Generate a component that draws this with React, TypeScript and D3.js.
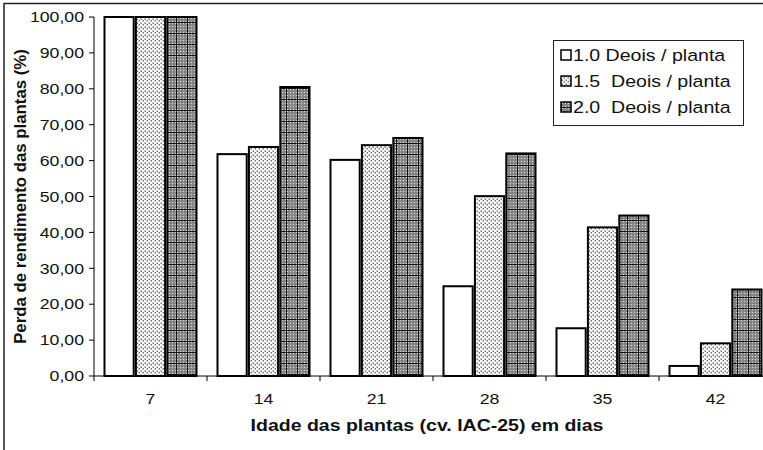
import * as d3 from 'd3';

const categories = ['7', '14', '21', '28', '35', '42'];
const seriesNames = ['1.0 Deois / planta', '1.5  Deois / planta', '2.0  Deois / planta'];
const values10 = [100, 61.8, 60.2, 25.0, 13.3, 2.8];
const values15 = [100, 63.8, 64.3, 50.1, 41.4, 9.1];
const values20 = [100, 80.5, 66.3, 62.0, 44.7, 24.1];
const yTicks = [0, 10, 20, 30, 40, 50, 60, 70, 80, 90, 100];

const W = 763;
const H = 450;
const left = 94;
const right = 772;
const top = 17;
const bottom = 376;
const font = '"Liberation Sans", Arial, sans-serif';
// the reference text looks a little stretched horizontally
const sx = 1.18;

const fills = ['#ffffff', 'url(#pat15)', 'url(#pat20)'];

export default function App() {
  const series = [values10, values15, values20];
  const p = 21 / 113;
  const x = d3.scaleBand<string>().domain(categories).range([left, right]).paddingInner(p).paddingOuter(p / 2);
  const xs = d3.scaleBand<number>().domain([0, 1, 2]).range([0, x.bandwidth()]).paddingInner(0.07);
  const y = d3.scaleLinear().domain([0, 100]).range([bottom, top]);
  const fmt = (v: number) => d3.format('.2f')(v).replace('.', ',');
  const step = x.step();
  const boundaries = d3.range(categories.length + 1).map(i => left + i * step);

  return (
    <svg width={W} height={H} style={{ position: 'absolute', left: 0, top: 0, background: '#fff' }}>
      <defs>
        <pattern id="pat15" width={4} height={4} patternUnits="userSpaceOnUse">
          <rect width={4} height={4} fill="#cacaca" />
          <rect x={0} y={0} width={2} height={2} fill="#fcfcfc" />
          <rect x={2} y={2} width={2} height={2} fill="#fcfcfc" />
          <rect x={3} y={0} width={1} height={1} fill="#6a6a6a" />
          <rect x={1} y={3} width={1} height={1} fill="#6a6a6a" />
        </pattern>
        <pattern id="pat20" width={11} height={11} patternUnits="userSpaceOnUse">
          <rect width={11} height={11} fill="#858585" />
          {d3.range(0, 11, 3).map(i =>
            d3.range(0, 11, 3).map(j => (
              <rect key={`${i}-${j}`} x={i + 1} y={j + 1} width={1} height={1} fill="#dcdcdc" />
            ))
          )}
          <rect x={0} y={0} width={11} height={1} fill="#111" />
          <rect x={0} y={0} width={1} height={11} fill="#111" />
        </pattern>
      </defs>

      {/* outer frame */}
      <path d={`M4,${H} V3.5 H${W}`} fill="none" stroke="#222" strokeWidth={1.5} />

      {/* bars */}
      {categories.map((c, ci) =>
        series.map((vals, si) => (
          <rect
            key={`${c}-${si}`}
            x={(x(c) ?? 0) + (xs(si) ?? 0)}
            y={y(vals[ci])}
            width={xs.bandwidth()}
            height={bottom - y(vals[ci])}
            fill={fills[si]}
            stroke="#000"
            strokeWidth={2}
          />
        ))
      )}

      {/* y axis */}
      <line x1={left} x2={left} y1={top} y2={bottom} stroke="#000" strokeWidth={1} />
      {yTicks.map(t => (
        <g key={t}>
          <line x1={left - 5} x2={left} y1={y(t)} y2={y(t)} stroke="#000" />
          <text
            transform={`translate(${left - 10},${y(t)}) scale(${sx},1)`}
            dy="0.35em"
            textAnchor="end"
            fontFamily={font}
            fontSize={15}
            fill="#111"
          >
            {fmt(t)}
          </text>
        </g>
      ))}

      {/* x axis */}
      <line x1={left} x2={W} y1={bottom} y2={bottom} stroke="#000" strokeWidth={1} />
      {boundaries.map(b => (
        <line key={b} x1={b} x2={b} y1={bottom} y2={bottom + 5} stroke="#000" />
      ))}
      {categories.map(c => (
        <text
          key={c}
          transform={`translate(${(x(c) ?? 0) + x.bandwidth() / 2},404) scale(${sx},1)`}
          textAnchor="middle"
          fontFamily={font}
          fontSize={15}
          fill="#111"
        >
          {c}
        </text>
      ))}

      <text
        transform={`translate(427,431) scale(1.22,1)`}
        textAnchor="middle"
        fontFamily={font}
        fontSize={16}
        fontWeight="bold"
        fill="#111"
      >
        Idade das plantas (cv. IAC-25) em dias
      </text>
      <text
        transform={`translate(26,${(top + bottom) / 2}) rotate(-90)`}
        textAnchor="middle"
        fontFamily={font}
        fontSize={16.8}
        fontWeight="bold"
        fill="#111"
      >
        Perda de rendimento das plantas (%)
      </text>

      {/* legend */}
      <rect x={553.5} y={40.5} width={190} height={85} fill="#fff" stroke="#222" strokeWidth={1} />
      {seriesNames.map((n, i) => (
        <g key={n} transform={`translate(561,${55 + i * 26})`}>
          <rect x={0} y={-5} width={10} height={10} fill={fills[i]} stroke="#000" strokeWidth={1.5} />
          <text
            transform={`translate(12,0) scale(1.2,1)`}
            dy="0.36em"
            fontFamily={font}
            fontSize={16.3}
            fill="#111"
            style={{ whiteSpace: 'pre' }}
          >
            {n}
          </text>
        </g>
      ))}
    </svg>
  );
}
